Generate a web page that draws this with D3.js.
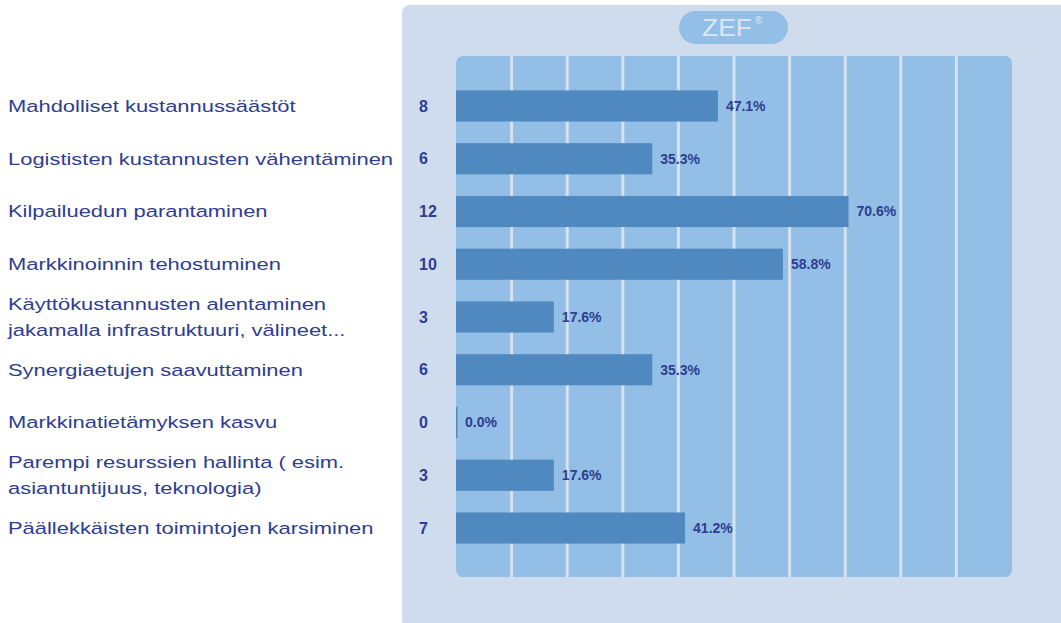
<!DOCTYPE html>
<html lang="en">
<head>
    <meta charset="UTF-8">
    <title>ZEF bar chart</title>
    <script src="https://d3js.org/d3.v7.min.js"></script>
    <style>
        body { margin: 0; background: #ffffff; }
        svg { display: block; }
    </style>
</head>
<body>
<script>

    // categories, each is an array of text lines
    var categories = [
        ["Mahdolliset kustannussäästöt"],
        ["Logististen kustannusten vähentäminen"],
        ["Kilpailuedun parantaminen"],
        ["Markkinoinnin tehostuminen"],
        ["Käyttökustannusten alentaminen", "jakamalla infrastruktuuri, välineet..."],
        ["Synergiaetujen saavuttaminen"],
        ["Markkinatietämyksen kasvu"],
        ["Parempi resurssien hallinta ( esim.", "asiantuntijuus, teknologia)"],
        ["Päällekkäisten toimintojen karsiminen"]
    ];
    var counts = [8, 6, 12, 10, 3, 6, 0, 3, 7];
    var percents = [47.1, 35.3, 70.6, 58.8, 17.6, 35.3, 0.0, 17.6, 41.2];
    var gridTicks = [10, 20, 30, 40, 50, 60, 70, 80, 90];

    var width = 1061;
    var height = 623;

    var textColor = "#2e3d91";
    var font = "Liberation Sans, Arial, sans-serif";
    // the source picture is stretched sideways, so the labels are too
    var stretch = 1.29;

    var svg = d3.select("body").append("svg")
        .attr("width", width)
        .attr("height", height);

    // outer panel
    svg.append("rect")
        .attr("x", 402)
        .attr("y", 5)
        .attr("width", width - 402 + 20)
        .attr("height", height)
        .attr("rx", 8)
        .attr("fill", "#cfdcee");

    // logo pill
    svg.append("rect")
        .attr("x", 679)
        .attr("y", 11)
        .attr("width", 109)
        .attr("height", 33)
        .attr("rx", 16.5)
        .attr("fill", "#93bfe6");
    svg.append("text")
        .attr("transform", "translate(727,36) scale(1.15,1)")
        .attr("text-anchor", "middle")
        .attr("font-family", font)
        .attr("font-size", "23px")
        .attr("fill", "#dde7f5")
        .text("ZEF");
    svg.append("text")
        .attr("x", 755)
        .attr("y", 24)
        .attr("font-family", font)
        .attr("font-size", "10px")
        .attr("fill", "#dde7f5")
        .text("®");

    var xScale = d3.scaleLinear()
        .domain([0, 100])
        .range([456, 1012]);

    var idx = d3.range(categories.length);
    var yScale = d3.scaleBand()
        .domain(idx)
        .range([79.6, 554.4])
        .paddingInner(0.41)
        .paddingOuter(0.205);

    function mid(i) {
        return yScale(i) + yScale.bandwidth() / 2;
    }

    // plot area
    svg.append("rect")
        .attr("x", xScale(0))
        .attr("y", 56)
        .attr("width", xScale(100) - xScale(0))
        .attr("height", 577 - 56)
        .attr("rx", 7)
        .attr("fill", "#93bfe6");

    // vertical grid lines
    svg.append("g")
        .selectAll("line")
        .data(gridTicks)
        .join("line")
        .attr("x1", function (d) { return xScale(d); })
        .attr("x2", function (d) { return xScale(d); })
        .attr("y1", 56)
        .attr("y2", 577)
        .attr("stroke", "#d6e2f2")
        .attr("stroke-width", 3);

    // bars
    svg.append("g")
        .selectAll("rect")
        .data(idx)
        .join("rect")
        .attr("x", xScale(0))
        .attr("y", function (i) { return yScale(i); })
        .attr("width", function (i) { return Math.max(1.5, xScale(percents[i]) - xScale(0)); })
        .attr("height", yScale.bandwidth())
        .attr("fill", "#4f89c0");

    // percent labels
    svg.append("g")
        .selectAll("text")
        .data(idx)
        .join("text")
        .attr("x", function (i) { return xScale(percents[i]) + (percents[i] > 0 ? 8 : 9); })
        .attr("y", mid)
        .attr("dy", "0.35em")
        .attr("font-family", font)
        .attr("font-weight", "bold")
        .attr("font-size", "14px")
        .attr("fill", textColor)
        .text(function (i) { return percents[i].toFixed(1) + "%"; });

    // count labels
    svg.append("g")
        .selectAll("text")
        .data(idx)
        .join("text")
        .attr("x", 419)
        .attr("y", mid)
        .attr("dy", "0.35em")
        .attr("font-family", font)
        .attr("font-weight", "bold")
        .attr("font-size", "16px")
        .attr("fill", textColor)
        .text(function (i) { return counts[i]; });

    // category labels
    var lineH = 26;
    var labels = svg.append("g")
        .selectAll("text")
        .data(idx)
        .join("text")
        .attr("transform", function (i) { return "translate(8," + mid(i) + ") scale(" + stretch + ",1)"; })
        .attr("font-family", font)
        .attr("font-size", "17px")
        .attr("fill", textColor);
    labels.each(function (i) {
        var lines = categories[i];
        var top = -(lines.length - 1) * lineH / 2;
        d3.select(this).selectAll("tspan")
            .data(lines)
            .join("tspan")
            .attr("x", 0)
            .attr("y", function (d, k) { return top + k * lineH; })
            .attr("dy", "0.35em")
            .text(function (d) { return d; });
    });

</script>
</body>
</html>
